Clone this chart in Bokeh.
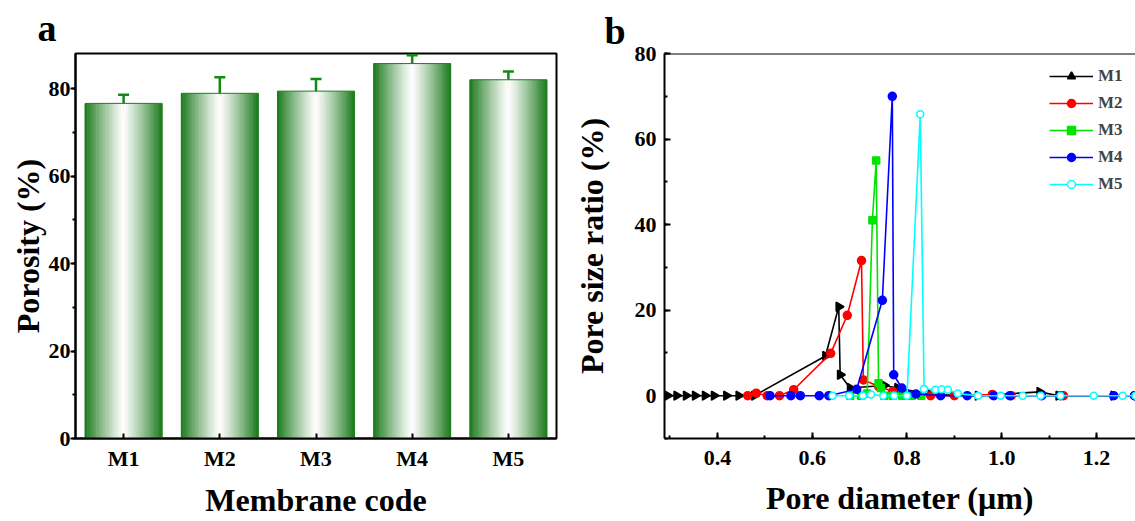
import numpy as np
from bokeh.plotting import figure
from bokeh.models import (ColumnDataSource, Whisker, TeeHead, FixedTicker, SingleIntervalTicker,
                          PrintfTickFormatter, Span, Range1d)
from bokeh.layouts import row
from bokeh.embed import file_html
from bokeh.resources import INLINE

# ---------------- data ----------------
categories = ["M1", "M2", "M3", "M4", "M5"]
porosity = [76.6, 78.9, 79.4, 85.7, 82.0]
porosity_err = [2.0, 3.7, 2.8, 1.9, 1.9]

m1_x = [0.295, 0.314, 0.334, 0.353, 0.374, 0.393, 0.419, 0.445, 0.478, 0.628, 0.656, 0.659,
        0.680, 0.752, 0.780, 0.850, 0.950, 1.080, 1.120, 1.236, 1.290]
m1_y = [0, 0, 0, 0, 0, 0, 0, 0, 0, 9.3, 20.8, 4.9, 1.8, 2.4, 1.8, 0.3, 0, 0.9, 0, 0, 0]

m2_x = [0.464, 0.482, 0.505, 0.531, 0.561, 0.639, 0.674, 0.704, 0.708, 0.740, 0.770, 0.800,
        0.850, 0.900, 0.980, 1.020, 1.130, 1.280]
m2_y = [0, 0.6, 0, 0, 1.4, 9.9, 18.8, 31.6, 3.7, 2.2, 1.0, 0.3, 0, 0, 0.3, 0, 0, 0]

m3_x = [0.680, 0.703, 0.716, 0.727, 0.735, 0.740, 0.745, 0.752, 0.770, 0.790, 0.810, 0.830]
m3_y = [0, 0, 0.5, 41.0, 55.0, 2.9, 1.8, 0, 0, 0, 0, 0]

m4_x = [0.511, 0.555, 0.575, 0.615, 0.635, 0.694, 0.748, 0.769, 0.772, 0.789, 0.819, 0.871,
        0.927, 0.983, 1.017, 1.084, 1.124, 1.236, 1.280]
m4_y = [0, 0, 0, 0, 0, 1.5, 22.3, 70.0, 4.9, 1.8, 0.4, 0, 0, 0, 0, 0, 0, 0, 0]

m5_x = [0.643, 0.678, 0.707, 0.724, 0.750, 0.773, 0.800, 0.828, 0.836, 0.860, 0.873, 0.886,
        0.907, 0.950, 0.998, 1.044, 1.082, 1.124, 1.194, 1.255, 1.282]
m5_y = [0, 0, 0, 0.3, 0, 0, 0, 65.8, 1.6, 1.4, 1.5, 1.4, 0.5, 0, 0, 0, 0, 0, 0, 0, 0]

series_names = ["M1", "M2", "M3", "M4", "M5"]

# ---------------- style ----------------
FONT = "Liberation Serif"
BAR_GREEN = np.array([28, 122, 28])
ERR_GREEN = "#138b13"


def style_axes(p):
    for ax in (p.xaxis[0], p.yaxis[0]):
        ax.axis_line_width = 2
        ax.axis_line_color = "black"
        ax.major_tick_line_width = 2
        ax.minor_tick_line_width = 2
        ax.major_tick_line_color = "black"
        ax.minor_tick_line_color = "black"
        ax.major_label_text_font = FONT
        ax.major_label_text_font_style = "bold"
        ax.major_label_text_font_size = "22px"
        ax.major_label_text_color = "black"
        ax.axis_label_text_font = FONT
        ax.axis_label_text_font_style = "bold"
        ax.axis_label_text_font_size = "32px"
        ax.axis_label_text_color = "black"
    p.xgrid.grid_line_color = None
    p.ygrid.grid_line_color = None


def style_letter(p, text, offset, standoff):
    p.title.text = text
    p.title.align = "left"
    p.title.offset = offset
    p.title.standoff = standoff
    p.title.text_font = FONT
    p.title.text_font_style = "bold"
    p.title.text_font_size = "38px"
    p.title.text_color = "black"


# ---------------- panel a ----------------
pa = figure(width=570, height=521, x_range=Range1d(0.5, 5.5), y_range=Range1d(0, 88),
            output_backend="svg", toolbar_location=None,
            min_border_left=75, min_border_right=14, min_border_top=52, min_border_bottom=83)
pa.outline_line_color = "black"
pa.outline_line_width = 2
pa.outline_line_alpha = 1

pos = [i + 1 for i in range(len(categories))]
bw = 0.8
N = 34
xs, tops, cols = [], [], []
for c, v in zip(pos, porosity):
    for k in range(N):
        u = (k + 0.5) / N
        t = abs(2 * u - 1) ** 1.15
        rgb = (255 * (1 - t) + BAR_GREEN * t).astype(int)
        xs.append(c - bw / 2 + u * bw)
        tops.append(v)
        cols.append("#%02x%02x%02x" % tuple(rgb))
pa.vbar(x=xs, top=tops, bottom=0, width=bw / N * 1.25, fill_color=cols, line_color=None)
pa.vbar(x=pos, top=porosity, bottom=0, width=bw, fill_color=None, line_color="#1e7d1e", line_width=1)

err_src = ColumnDataSource(dict(x=pos,
                                upper=[v + e for v, e in zip(porosity, porosity_err)],
                                lower=[v - e for v, e in zip(porosity, porosity_err)]))
pa.add_layout(Whisker(base="x", upper="upper", lower="lower", source=err_src,
                      line_color=ERR_GREEN, line_width=2.5,
                      upper_head=TeeHead(size=11, line_color=ERR_GREEN, line_width=2.5),
                      lower_head=TeeHead(size=11, line_color=ERR_GREEN, line_width=2.5)))

style_axes(pa)
pa.xaxis.ticker = FixedTicker(ticks=pos, minor_ticks=[])
pa.xaxis.major_label_overrides = {p_: c for p_, c in zip(pos, categories)}
pa.xaxis.major_tick_in = 5
pa.xaxis.major_tick_out = 0
pa.xaxis.major_label_standoff = 7
pa.xaxis.axis_label = "Membrane code"
pa.xaxis.axis_label_standoff = 8
pa.yaxis.ticker = SingleIntervalTicker(interval=20, num_minor_ticks=2)
pa.yaxis.major_tick_in = 0
pa.yaxis.major_tick_out = 5
pa.yaxis.minor_tick_in = 0
pa.yaxis.minor_tick_out = 3
pa.yaxis.major_label_standoff = 0
pa.yaxis.axis_label = "Porosity (%)"
pa.yaxis.axis_label_standoff = 0
style_letter(pa, "a", -38, 9)

# ---------------- panel b ----------------
pb = figure(width=565, height=521, x_range=Range1d(0.2884, 1.2821), y_range=Range1d(-10, 80),
            output_backend="svg", toolbar_location=None,
            min_border_left=93, min_border_right=0, min_border_top=52, min_border_bottom=83)
pb.outline_line_color = None
pb.add_layout(Span(location=80, dimension="width", line_color="black", line_width=2))

specs = [
    (m1_x, m1_y, "black", "triangle", 9, "black", -np.pi / 2),
    (m2_x, m2_y, "red", "circle", 8, "red", 0),
    (m3_x, m3_y, "#00e400", "square", 7, "#00e400", 0),
    (m4_x, m4_y, "blue", "circle", 8, "blue", 0),
    (m5_x, m5_y, "cyan", "circle", 7, "white", 0),
]
for name, (x, y, col, mk, sz, fill, ang) in zip(series_names, specs):
    pb.line(x, y, line_color=col, line_width=1.6, legend_label=name)
    pb.scatter(x, y, marker=mk, size=sz, fill_color=fill, line_color=col, line_width=1.5,
               angle=ang, legend_label=name)

style_axes(pb)
pb.xaxis.ticker = SingleIntervalTicker(interval=0.2, num_minor_ticks=2)
pb.xaxis.formatter = PrintfTickFormatter(format="%.1f")
pb.xaxis.major_tick_in = 6
pb.xaxis.major_tick_out = 0
pb.xaxis.minor_tick_in = 3
pb.xaxis.minor_tick_out = 0
pb.xaxis.major_label_standoff = 12
pb.xaxis.axis_label = "Pore diameter (\u03bcm)"
pb.xaxis.axis_label_standoff = 12
pb.xaxis.axis_label_text_line_height = 0.75
pb.yaxis.ticker = SingleIntervalTicker(interval=20, num_minor_ticks=2)
pb.yaxis.major_tick_in = 6
pb.yaxis.major_tick_out = 0
pb.yaxis.minor_tick_in = 3
pb.yaxis.minor_tick_out = 0
pb.yaxis.major_label_standoff = 8
pb.yaxis.axis_label = "Pore size ratio (%)"
pb.yaxis.axis_label_standoff = 22
style_letter(pb, "b", -60, 4)

lg = pb.legend[0]
lg.location = (385, 244)
lg.border_line_color = None
lg.background_fill_alpha = 0
lg.margin = 0
lg.padding = 0
lg.spacing = 7
lg.glyph_width = 44
lg.glyph_height = 20
lg.label_standoff = 5
lg.label_text_font = FONT
lg.label_text_font_style = "bold"
lg.label_text_font_size = "17px"

layout = row(pa, pb)
open("out.html", "w").write(file_html(layout, INLINE))
